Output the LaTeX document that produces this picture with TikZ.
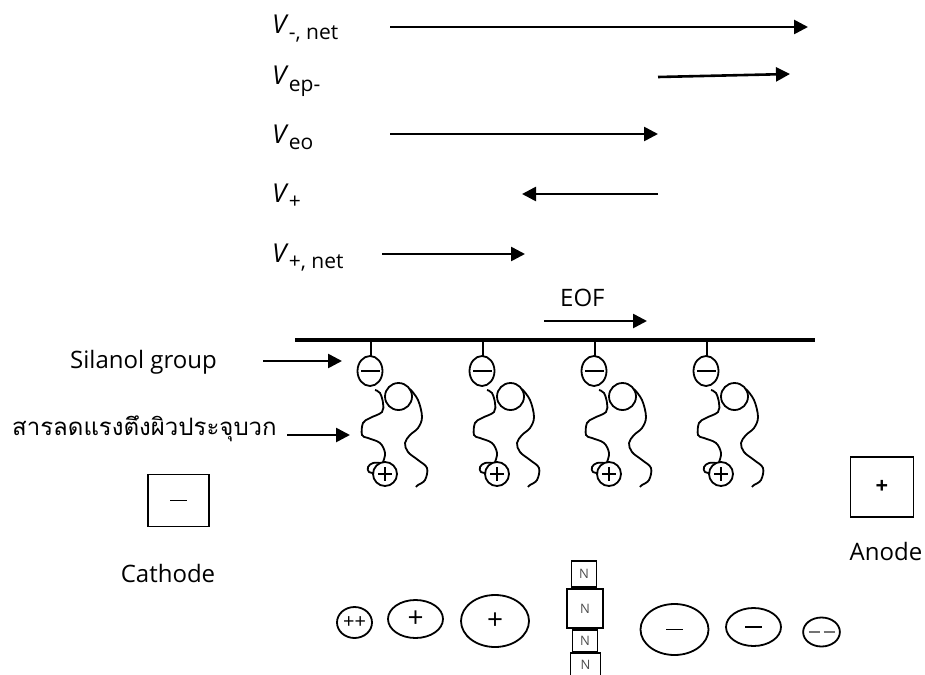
\documentclass[tikz,border=0pt]{standalone}
\usepackage{fontspec}
\setmainfont{Open Sans}
\newfontfamily\thaifont[Script=Thai]{Loma}
\usetikzlibrary{arrows.meta,shapes.geometric}

% velocity label: italic V with an upright subscript
\newcommand\velabel[1]{\textit{V}\raisebox{-6pt}{\fontsize{21}{22}\selectfont #1}}
% thin minus bar used inside the charge symbols
\newcommand\minusbar[1]{\rule{#1}{1.3pt}}

% one surfactant unit hanging from the capillary wall at x = #1
\newcommand\surfunit[2]{%
\begin{scope}[shift={(#1,0)}]
  \draw[chain] (0,340) -- (0,356);
  \node[chain, draw, ellipse, minimum width=25pt, minimum height=30pt, inner sep=0pt] (neg#2) at (-1,371) {};
  \draw[chain] (-10,371) -- (9,371);
  \draw[chain] (27.5,396.5) circle [radius=13.5];
  \node[chain, draw, circle, minimum size=24pt, inner sep=0pt] (pos#2) at (14,474) {};
  \draw[line width=1.1pt] (14,467) -- (14,481) (7,474) -- (21,474);
  \draw[chain] plot[smooth, tension=0.6] coordinates {(4,390) (9,393) (12,403) (11,412) (-1,418) (-8,423) (-9,435) (-3,438) (9,443) (14,453) (12,462)};
  \draw[chain] plot[smooth, tension=0.7] coordinates {(9,463) (2,463) (-3,467) (-2,472) (3,473)};
  \draw[chain] plot[smooth, tension=0.6] coordinates {(39,389) (47,400) (51,417) (47,428) (39,435) (34,443) (37,452) (47,460) (56,468) (54,480) (47,485) (45,487)};
\end{scope}}

\begin{document}
\begin{tikzpicture}[x=1pt, y=-1pt,
  flow/.style={line width=2.6pt, -{Triangle[length=14pt, width=14pt]}},
  lbl/.style={font=\fontsize{24}{28}\selectfont, inner sep=0pt},
  vlbl/.style={font=\fontsize{26}{30}\selectfont, inner sep=0pt, anchor=base west},
  chain/.style={line width=1.8pt},
  ionbox/.style={draw, line width=1.8pt, inner sep=0pt},
  ionel/.style={draw, ellipse, line width=1.8pt, inner sep=0pt, font=\fontsize{28}{30}\selectfont},
  nbox/.style={draw, line width=1.8pt, inner sep=0pt, font=\fontsize{13}{14}\selectfont, text=black!70}
]
\useasboundingbox (0,0) rectangle (925,674);

% velocity vectors
\node[vlbl] (vneg)  at (272,34)  {\velabel{-, net}};
\node[vlbl] (vep)   at (272,85)  {\velabel{ep-}};
\node[vlbl] (veo)   at (272,143) {\velabel{eo}};
\node[vlbl] (vpos)  at (272,202) {\velabel{+}};
\node[vlbl] (vpnet) at (272,262) {\velabel{+, net}};

\coordinate (a1s) at (390,27);  \coordinate (a1e) at (808,27);
\coordinate (a2s) at (658,77);  \coordinate (a2e) at (790,74);
\coordinate (a3s) at (390,134); \coordinate (a3e) at (658,134);
\coordinate (a4s) at (658,194); \coordinate (a4e) at (522,194);
\coordinate (a5s) at (382,254); \coordinate (a5e) at (525,254);
\draw[flow] (a1s) -- (a1e);
\draw[flow] (a2s) -- (a2e);
\draw[flow] (a3s) -- (a3e);
\draw[flow] (a4s) -- (a4e);
\draw[flow] (a5s) -- (a5e);

% electro-osmotic flow
\node[lbl, anchor=base west] (eof) at (560,306) {EOF};
\coordinate (eofs) at (544,321); \coordinate (eofe) at (647,321);
\draw[flow] (eofs) -- (eofe);

% capillary wall
\coordinate (wl) at (295,340); \coordinate (wr) at (815,340);
\draw[line width=4pt] (wl) -- (wr);

% surfactants on the wall
\surfunit{371}{1}
\surfunit{483}{2}
\surfunit{595}{3}
\surfunit{707}{4}

% side labels
\node[lbl, anchor=base west] (sil) at (70,368) {Silanol group};
\coordinate (sils) at (263,361); \coordinate (sile) at (342,361);
\draw[flow] (sils) -- (sile);
\node[lbl, anchor=base west] (surf) at (12,435) {\thaifont สารลดแรงตึงผิวประจุบวก};
\coordinate (surs) at (287,435); \coordinate (sure) at (350,435);
\draw[flow] (surs) -- (sure);

% electrodes
\node[ionbox, minimum width=61pt, minimum height=52pt] (cath) at (178.5,500.5) {\minusbar{17pt}};
\node[lbl, anchor=base] (cathl) at (168,582) {Cathode};
\node[ionbox, minimum width=63pt, minimum height=60pt, font=\fontsize{22}{26}\selectfont\bfseries] (anod) at (882,487) {+};
\node[lbl, anchor=base] (anodl) at (886,560) {Anode};

% analytes in the capillary
\node[ionel, minimum width=35pt, minimum height=31pt, font=\fontsize{20}{22}\selectfont] (pp) at (354.5,622.5) {++};
\node[ionel, minimum width=55pt, minimum height=38pt] (p1) at (415.5,619) {+};
\node[ionel, minimum width=68pt, minimum height=52pt] (p2) at (495,621) {+};
\node[nbox, minimum width=25pt, minimum height=26pt] (n1) at (584,574) {N};
\node[nbox, minimum width=36pt, minimum height=39pt] (n2) at (585,608.5) {N};
\node[nbox, minimum width=25pt, minimum height=22pt] (n3) at (585,641) {N};
\node[nbox, minimum width=30pt, minimum height=24pt] (n4) at (585.5,665) {N};
\node[ionel, minimum width=68pt, minimum height=51pt] (m1) at (674.5,629.5) {\minusbar{17pt}};
\node[ionel, minimum width=55pt, minimum height=38pt] (m2) at (753.5,627) {\minusbar{17pt}};
\node[ionel, minimum width=35pt, minimum height=29pt] (mm) at (821.5,632) {\color{black!55}\minusbar{11pt}\hspace{4pt}\minusbar{11pt}};
\end{tikzpicture}
\end{document}
